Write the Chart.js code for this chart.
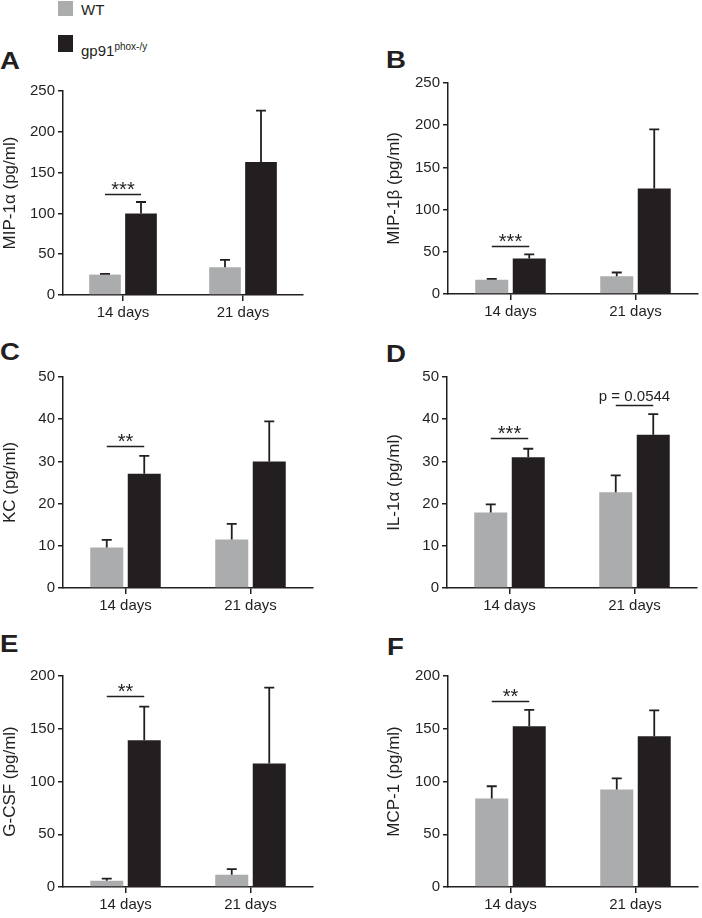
<!DOCTYPE html>
<html>
<head>
<meta charset="utf-8">
<script src="https://cdn.jsdelivr.net/npm/chart.js@4.4.1/dist/chart.umd.min.js"></script>
<style>
  body { margin: 0; width: 702px; height: 918px; position: relative; overflow: hidden; background: #fff;
         font-family: "Liberation Sans", Arial, sans-serif; color: #231f20; }
  .box { position: absolute; }
  .letter { position: absolute; font-weight: bold; font-size: 23px; line-height: 23px;
            transform: scaleX(1.2); transform-origin: left top; }
  .swatch { position: absolute; left: 58px; width: 15px; }
  .leg { position: absolute; left: 81px; font-size: 15px; line-height: 15px; white-space: nowrap; }
  .leg sup { font-size: 10px; }
</style>
</head>
<body>
<div class="swatch" style="top:1px;height:15px;background:#aaacad"></div>
<div class="leg" style="top:2px">WT</div>
<div class="swatch" style="top:35px;height:17px;background:#231f20"></div>
<div class="leg" style="top:39px">gp91<sup>phox-/y</sup></div>

<div class="letter" style="left:0;top:50px">A</div>
<div class="letter" style="left:386px;top:49px">B</div>
<div class="letter" style="left:0;top:341px">C</div>
<div class="letter" style="left:386px;top:343px">D</div>
<div class="letter" style="left:0;top:633px">E</div>
<div class="letter" style="left:387px;top:636px">F</div>

<script>
const timepoints = ["14 days", "21 days"];
const groupNames = ["WT", "gp91phox-/y"];
const wtColor = "#aaacad";
const koColor = "#231f20";
const ink = "#231f20";

// mean and SEM (upper bar only)
const mip1aWT = [25, 34],     mip1aWTsem = [1, 9];
const mip1aKO = [100, 163],   mip1aKOsem = [14, 63];
const mip1bWT = [17, 21],     mip1bWTsem = [1, 4.5];
const mip1bKO = [42, 125],    mip1bKOsem = [5, 70];
const kcWT = [9.6, 11.5],     kcWTsem = [1.8, 3.7];
const kcKO = [27.1, 30.0],    kcKOsem = [4.2, 9.5];
const il1aWT = [17.9, 22.7],  il1aWTsem = [1.9, 4.0];
const il1aKO = [31.0, 36.3],  il1aKOsem = [2.0, 4.9];
const gcsfWT = [6, 11.7],     gcsfWTsem = [2, 5.3];
const gcsfKO = [139, 117],    gcsfKOsem = [32, 72];
const mcp1WT = [84, 92.4],    mcp1WTsem = [11.5, 10.5];
const mcp1KO = [152.4, 143],  mcp1KOsem = [15.5, 24.5];

// significance brackets: category index, label, bracket level (data units)
const mip1aSig = [[0, "***", 124]];
const mip1bSig = [[0, "***", 57]];
const kcSig    = [[0, "**", 33.6]];
const il1aSig  = [[0, "***", 35.6], [1, "p = 0.0544", 43.4]];
const gcsfSig  = [[0, "**", 181]];
const mcp1Sig  = [[0, "**", 176]];

const panels = [
  { title: "MIP-1α (pg/ml)", max: 250, step: 50, wt: mip1aWT, wtSem: mip1aWTsem, ko: mip1aKO, koSem: mip1aKOsem, sig: mip1aSig,
    left: 0, width: 351, plotTop: 91, plotBottom: 295, plotLeft: 63, plotRight: 303 },
  { title: "MIP-1β (pg/ml)", max: 250, step: 50, wt: mip1bWT, wtSem: mip1bWTsem, ko: mip1bKO, koSem: mip1bKOsem, sig: mip1bSig,
    left: 384, width: 318, plotTop: 83, plotBottom: 294, plotLeft: 448, plotRight: 698 },
  { title: "KC (pg/ml)", max: 50, step: 10, wt: kcWT, wtSem: kcWTsem, ko: kcKO, koSem: kcKOsem, sig: kcSig,
    left: 0, width: 351, plotTop: 377, plotBottom: 588, plotLeft: 63, plotRight: 313 },
  { title: "IL-1α (pg/ml)", max: 50, step: 10, wt: il1aWT, wtSem: il1aWTsem, ko: il1aKO, koSem: il1aKOsem, sig: il1aSig,
    left: 384, width: 318, plotTop: 377, plotBottom: 588, plotLeft: 447, plotRight: 697 },
  { title: "G-CSF (pg/ml)", max: 200, step: 50, wt: gcsfWT, wtSem: gcsfWTsem, ko: gcsfKO, koSem: gcsfKOsem, sig: gcsfSig,
    left: 0, width: 351, plotTop: 676, plotBottom: 887, plotLeft: 63, plotRight: 313 },
  { title: "MCP-1 (pg/ml)", max: 200, step: 50, wt: mcp1WT, wtSem: mcp1WTsem, ko: mcp1KO, koSem: mcp1KOsem, sig: mcp1Sig,
    left: 384, width: 318, plotTop: 676, plotBottom: 887, plotLeft: 448, plotRight: 698 }
];

const PAD_TOP = 12;
const X_HEIGHT = 31;
const FONT = "'Liberation Sans', Arial, sans-serif";

function makeOverlay(p) {
  return {
    id: "errorsAndSig",
    afterDatasetsDraw(chart) {
      const ctx = chart.ctx;
      const y = chart.scales.y;
      const sems = [p.wtSem, p.koSem];
      ctx.save();
      ctx.strokeStyle = ink;
      ctx.lineWidth = 1.8;
      chart.data.datasets.forEach((ds, di) => {
        chart.getDatasetMeta(di).data.forEach((bar, i) => {
          const top = y.getPixelForValue(ds.data[i] + sems[di][i]);
          ctx.beginPath();
          ctx.moveTo(bar.x, bar.y);
          ctx.lineTo(bar.x, top);
          ctx.moveTo(bar.x - 5, top);
          ctx.lineTo(bar.x + 5, top);
          ctx.stroke();
        });
      });
      const wtBars = chart.getDatasetMeta(0).data;
      const koBars = chart.getDatasetMeta(1).data;
      ctx.fillStyle = ink;
      ctx.textAlign = "center";
      ctx.textBaseline = "alphabetic";
      p.sig.forEach(([cat, label, level]) => {
        const yy = Math.round(y.getPixelForValue(level)) + 0.5;
        const x1 = wtBars[cat].x, x2 = koBars[cat].x;
        ctx.lineWidth = 1.5;
        ctx.beginPath();
        ctx.moveTo(x1, yy);
        ctx.lineTo(x2, yy);
        ctx.stroke();
        if (label.startsWith("p")) {
          ctx.font = "15px " + FONT;
          ctx.fillText(label, (x1 + x2) / 2, yy - 5);
        } else {
          ctx.font = "20px " + FONT;
          ctx.fillText(label, (x1 + x2) / 2, yy + 1);
        }
      });
      ctx.restore();
    }
  };
}

panels.forEach(p => {
  const top = p.plotTop - PAD_TOP;
  const height = p.plotBottom - p.plotTop + PAD_TOP + X_HEIGHT;
  const box = document.createElement("div");
  box.className = "box";
  box.style.left = p.left + "px";
  box.style.top = top + "px";
  const canvas = document.createElement("canvas");
  canvas.width = p.width;
  canvas.height = height;
  canvas.style.width = p.width + "px";
  canvas.style.height = height + "px";
  box.appendChild(canvas);
  document.body.appendChild(box);

  const yWidth = p.plotLeft - p.left;
  const padRight = p.left + p.width - p.plotRight;

  new Chart(canvas, {
    type: "bar",
    data: {
      labels: timepoints,
      datasets: [
        { label: groupNames[0], data: p.wt, backgroundColor: wtColor, borderWidth: 0 },
        { label: groupNames[1], data: p.ko, backgroundColor: koColor, borderWidth: 0 }
      ]
    },
    options: {
      responsive: false,
      animation: false,
      events: [],
      datasets: { bar: { categoryPercentage: 0.6, barPercentage: 0.88 } },
      layout: { padding: { top: PAD_TOP, right: padRight, left: 0, bottom: 0 } },
      plugins: { legend: { display: false }, tooltip: { enabled: false } },
      scales: {
        x: {
          grid: { drawOnChartArea: false, drawTicks: true, tickLength: 6, offset: false, color: ink, lineWidth: 1.5 },
          border: { color: ink, width: 1.5 },
          ticks: { color: ink, font: { family: FONT, size: 15 }, padding: 3 },
          afterFit: s => { s.height = X_HEIGHT; }
        },
        y: {
          min: 0,
          max: p.max,
          ticks: { stepSize: p.step, color: ink, font: { family: FONT, size: 15 }, padding: 3 },
          grid: { drawOnChartArea: false, drawTicks: true, tickLength: 5, color: ink, lineWidth: 1.5 },
          border: { color: ink, width: 1.5 },
          title: { display: true, text: p.title, color: ink, font: { family: FONT, size: 17 }, padding: 0 },
          afterFit: s => { s.width = yWidth; }
        }
      }
    },
    plugins: [makeOverlay(p)]
  });
});
</script>
</body>
</html>
